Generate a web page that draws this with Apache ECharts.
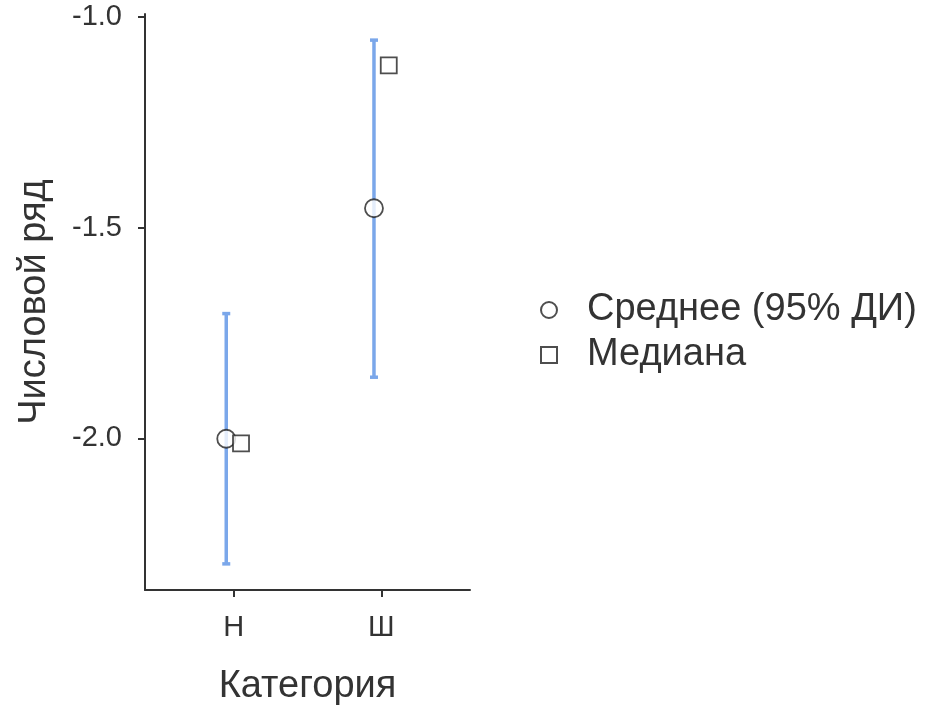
<!DOCTYPE html>
<html>
<head>
<meta charset="utf-8">
<script src="https://cdn.jsdelivr.net/npm/echarts@6/dist/echarts.min.js"></script>
<style>html,body{margin:0;padding:0;background:#fff}#c{width:950px;height:712px}</style>
</head>
<body>
<div id="c"></div>
<script>
const categories = ['Н', 'Ш'];
const means = [-2.001, -1.454];
const ciLow = [-2.298, -1.855];
const ciHigh = [-1.704, -1.055];
const medians = [-2.012, -1.115];
const yTicks = [-2.0, -1.5, -1.0];

const dodge = 0.05;
const meanData = means.map((v, i) => [i - dodge, v]);
const medData = medians.map((v, i) => [i + dodge, v]);
const errData = means.map((v, i) => [i - dodge, ciLow[i], ciHigh[i]]);

const chart = echarts.init(document.getElementById('c'));
const font = 'Liberation Sans, Arial, sans-serif';
chart.setOption({
  animation: false,
  textStyle: { fontFamily: font },
  grid: { left: 145, right: 480, top: 14, bottom: 122 },
  xAxis: {
    type: 'value', min: -0.6, max: 1.6,
    name: 'Категория', nameLocation: 'middle', nameGap: 78,
    nameTextStyle: { fontSize: 38, color: '#333', fontFamily: font },
    axisLine: { show: true, onZero: false, lineStyle: { color: '#333', width: 2 } },
    axisTick: { show: true, length: 7, customValues: [0, 1], lineStyle: { color: '#333', width: 2 } },
    axisLabel: { customValues: [0, 1], formatter: v => categories[Math.round(v)], fontSize: 29, color: '#333', margin: 23 },
    splitLine: { show: false }
  },
  yAxis: {
    type: 'value', min: -2.36, max: -0.993,
    name: 'Числовой ряд', nameLocation: 'middle', nameGap: 91, nameRotate: 90,
    nameTextStyle: { fontSize: 38, color: '#333', fontFamily: font },
    axisLine: { show: true, onZero: false, lineStyle: { color: '#333', width: 2 } },
    axisTick: { show: true, length: 7, customValues: yTicks, lineStyle: { color: '#333', width: 2 } },
    axisLabel: { customValues: yTicks, formatter: v => v.toFixed(1), fontSize: 29, color: '#333', margin: 23 },
    splitLine: { show: false }
  },
  legend: {
    orient: 'vertical', left: 535, top: 286, itemGap: 7,
    itemWidth: 16, itemHeight: 16,
    textStyle: { fontSize: 38, lineHeight: 38, color: '#333', fontFamily: font, padding: [0, 0, 0, 25] },
    data: [
      { name: 'Среднее (95% ДИ)', icon: 'circle' },
      { name: 'Медиана', icon: 'rect' }
    ]
  },
  series: [
    {
      type: 'custom', name: 'err', silent: true, z: 1,
      data: errData,
      encode: { x: 0, y: [1, 2] },
      renderItem: function (params, api) {
        const x = api.value(0);
        const lo = api.coord([x, api.value(1)]);
        const hi = api.coord([x, api.value(2)]);
        const style = { stroke: '#7BA7EA', lineWidth: 3.5 };
        const cap = 4;
        return {
          type: 'group',
          children: [
            { type: 'line', shape: { x1: lo[0], y1: lo[1], x2: hi[0], y2: hi[1] }, style: style },
            { type: 'line', shape: { x1: lo[0] - cap, y1: lo[1], x2: lo[0] + cap, y2: lo[1] }, style: style },
            { type: 'line', shape: { x1: hi[0] - cap, y1: hi[1], x2: hi[0] + cap, y2: hi[1] }, style: style }
          ]
        };
      }
    },
    {
      type: 'scatter', name: 'Среднее (95% ДИ)', symbol: 'circle', symbolSize: 18, z: 3,
      data: meanData,
      itemStyle: { color: '#fff', borderColor: '#222', borderWidth: 1.8 }
    },
    {
      type: 'scatter', name: 'Медиана', symbol: 'rect', symbolSize: 16, z: 3,
      data: medData,
      itemStyle: { color: '#fff', borderColor: '#222', borderWidth: 1.8 }
    }
  ]
});
</script>
</body>
</html>
